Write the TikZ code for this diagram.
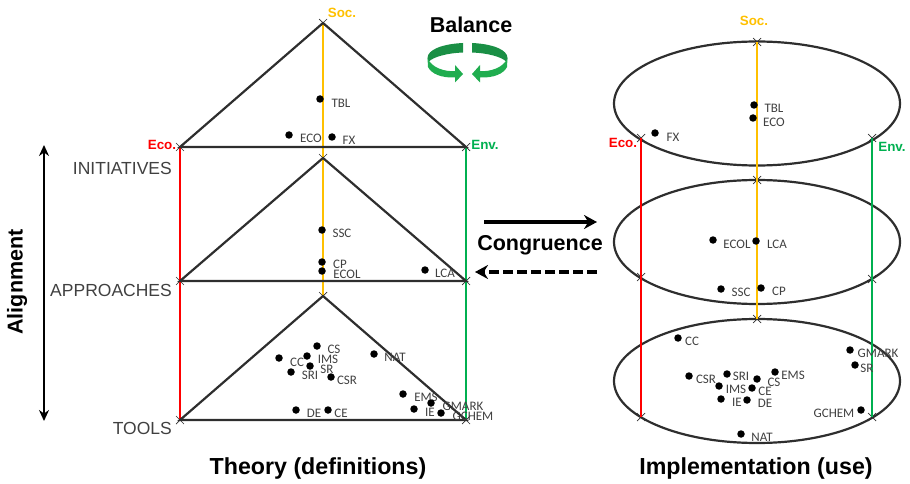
\documentclass[tikz,border=0pt]{standalone}
\usepackage{fontspec}
\setmainfont{Liberation Sans}
\newfontfamily\calfont{Carlito}
\usepackage{xcolor}
\usepackage{tikz}
\usetikzlibrary{arrows.meta,shapes.misc,shapes.geometric}
\definecolor{socyellow}{HTML}{FFC000}
\definecolor{ecored}{HTML}{FF0000}
\definecolor{envgreen}{HTML}{00B050}
\definecolor{inkgray}{HTML}{2E2E2E}
\definecolor{textgray}{HTML}{404040}
\definecolor{ribbondark}{HTML}{1A8F45}
\definecolor{ribbonlight}{HTML}{20AD4F}

\begin{document}
\begin{tikzpicture}[
  x=1pt,y=-1pt,
  tick/.style={cross out,draw=inkgray,line width=0.7pt,minimum size=8pt,inner sep=0pt,outer sep=0pt},
  side/.style={draw=inkgray,line width=2.2pt},
  ring/.style={ellipse,draw=inkgray,line width=2.2pt,minimum width=286pt,minimum height=124pt,inner sep=0pt,outer sep=0pt},
  socline/.style={draw=socyellow,line width=2.3pt},
  ecoline/.style={draw=ecored,line width=2.3pt},
  envline/.style={draw=envgreen,line width=2.3pt},
  dot/.style={circle,fill=black,minimum size=7.5pt,inner sep=0pt},
  lab/.style={font=\calfont\fontsize{13}{13}\selectfont,text=textgray,inner sep=0pt},
  corner/.style={font=\bfseries\fontsize{13.4}{13.4}\selectfont,inner sep=0pt},
  level/.style={font=\fontsize{17.5}{17.5}\selectfont,text=textgray,anchor=east,inner sep=0pt},
  head/.style={font=\bfseries\fontsize{21.5}{21.5}\selectfont,inner sep=0pt},
  title/.style={font=\bfseries\fontsize{23.2}{23.2}\selectfont,inner sep=0pt},
  arr/.style={-{Stealth[length=13pt,width=14pt]},line width=3.4pt,draw=black}
]
\useasboundingbox (0,0) rectangle (910,484);

% theory side
\node[tick] (socA) at (323,23) {};
\node[tick] (ecoA) at (180,147) {};
\node[tick] (envA) at (466,147) {};
\node[tick] (socB) at (323,158) {};
\node[tick] (ecoB) at (180,281) {};
\node[tick] (envB) at (466,281) {};
\node[tick] (socC) at (323,296) {};
\node[tick] (ecoC) at (180,420) {};
\node[tick] (envC) at (466,420) {};
\draw[socline] (socA.center) -- (socC.center);
\draw[ecoline] (ecoA.center) -- (ecoC.center);
\draw[envline] (envA.center) -- (envC.center);
\draw[side] (ecoA.center) -- (socA.center) -- (envA.center) -- cycle;
\draw[side] (ecoB.center) -- (socB.center) -- (envB.center) -- cycle;
\draw[side] (ecoC.center) -- (socC.center) -- (envC.center) -- cycle;

% implementation side
\node[ring] (ringA) at (757,103.5) {};
\node[ring] (ringB) at (757,242) {};
\node[ring] (ringC) at (757,381) {};
\node[tick] (socD) at (757,42) {};
\node[tick] (socE) at (757,180) {};
\node[tick] (socF) at (757,319) {};
\node[tick] (ecoD) at (641,138) {};
\node[tick] (ecoE) at (641,277) {};
\node[tick] (ecoF) at (641,417) {};
\node[tick] (envD) at (872,138) {};
\node[tick] (envE) at (872,279) {};
\node[tick] (envF) at (872,417) {};
\draw[socline] (socD.center) -- (socF.center);
\draw[ecoline] (ecoD.center) -- (ecoF.center);
\draw[envline] (envD.center) -- (envF.center);

% points, theory
\foreach \nm/\dx/\dy/\tx/\ty/\lbl in {
  tTBL/320/99/341/103/TBL, tECO/289/135/311/138/ECO, tFX/332/137/349/140/FX,
  tSSC/322/230/342/233/SSC, tCP/322/262/340/264/CP, tECOL/322/271/347/274/ECOL,
  tLCA/425/270/445/273/LCA, tCS/317/346/334/349/CS, tIMS/307/356/328/359/IMS,
  tCC/279/358/297/362/CC, tSR/310/366/327/369/SR, tSRI/291/372/310/375/SRI,
  tCSR/331/377/347/380/CSR, tNAT/374/354/395/357/NAT, tEMS/403/394/426/397/EMS,
  tGMARK/431/403/463/406/GMARK, tIE/414/409/430/412/IE, tGCHEM/441/413/473/416/GCHEM,
  tDE/296/410/314/413/DE, tCE/328/410/341/413/CE}{
  \node[dot] (\nm) at (\dx,\dy) {};
  \node[lab] (\nm-t) at (\tx,\ty) {\lbl};
}

% points, implementation
\foreach \nm/\dx/\dy/\tx/\ty/\lbl in {
  iTBL/754/105/774/108/TBL, iECO/753/118/774/122/ECO, iFX/655/133/673/137/FX,
  iECOL/713/240/737/244/ECOL, iLCA/756/241/777/244/LCA, iSSC/721/289/741/292/SSC,
  iCP/761/288/779/291/CP, iCC/678/338/692/341/CC, iGMARK/850/350/878/353/GMARK,
  iSR/855/365/867/368/SR, iCSR/689/376/706/379/CSR, iSRI/727/374/741/376/SRI,
  iEMS/775/372/793/375/EMS, iCS/757/379/774/382/CS, iIMS/719/386/736/389/IMS,
  iCE/752/388/765/391/CE, iIE/721/399/737/402/IE, iDE/747/400/765/403/DE,
  iGCHEM/861/410/834/413/GCHEM, iNAT/741/434/762/437/NAT}{
  \node[dot] (\nm) at (\dx,\dy) {};
  \node[lab] (\nm-t) at (\tx,\ty) {\lbl};
}

% corner labels
\node[corner,text=socyellow] (socLabA) at (342,13) {Soc.};
\node[corner,text=ecored] (ecoLabA) at (162,145) {Eco.};
\node[corner,text=envgreen] (envLabA) at (485,145) {Env.};
\node[corner,text=socyellow] (socLabB) at (754,21) {Soc.};
\node[corner,text=ecored] (ecoLabB) at (623,143) {Eco.};
\node[corner,text=envgreen] (envLabB) at (892,147) {Env.};

% levels
\node[level] (initiatives) at (172,168) {INITIATIVES};
\node[level] (approaches) at (172,290) {APPROACHES};
\node[level] (tools) at (172,428) {TOOLS};
\node[head,rotate=90] (alignment) at (17,282) {Alignment};
\coordinate (alignTop) at (44,145);
\coordinate (alignBot) at (44,421);
\draw[{Stealth[length=11pt,width=10pt]}-{Stealth[length=11pt,width=10pt]},line width=2.5pt] (alignTop) -- (alignBot);

% middle
\node[head] (balance) at (471,25) {Balance};
\node[head] (congruence) at (540,245) {Congruence};
\coordinate (congA) at (484,222);
\coordinate (congB) at (597,222);
\coordinate (congC) at (597,272);
\coordinate (congD) at (475,272);
\draw[arr] (congA) -- (congB);
\draw[arr,dash pattern=on 10pt off 4pt] (congC) -- (congD);

% balance ribbon
\foreach \s in {1,-1}{
  \begin{scope}[shift={(467.5,0)},xscale=\s]
    \fill[ribbondark] (-4.5,43) .. controls (-26,44) and (-40,50) .. (-40,58)
      -- (-39,62) .. controls (-35,57) and (-20,53) .. (-4.5,52.5) -- cycle;
    \fill[ribbonlight] (-40,58) -- (-39.5,67) .. controls (-36,74) and (-26,78) .. (-12.5,77.5)
      -- (-12.5,82.5) -- (-4.5,74) -- (-12.5,65) -- (-12.5,71)
      .. controls (-22,72) and (-36,68) .. (-40,58) -- cycle;
  \end{scope}
}

% titles
\node[title] (theory) at (318,468) {Theory (definitions)};
\node[title] (implementation) at (756,468) {Implementation (use)};
\end{tikzpicture}
\end{document}
